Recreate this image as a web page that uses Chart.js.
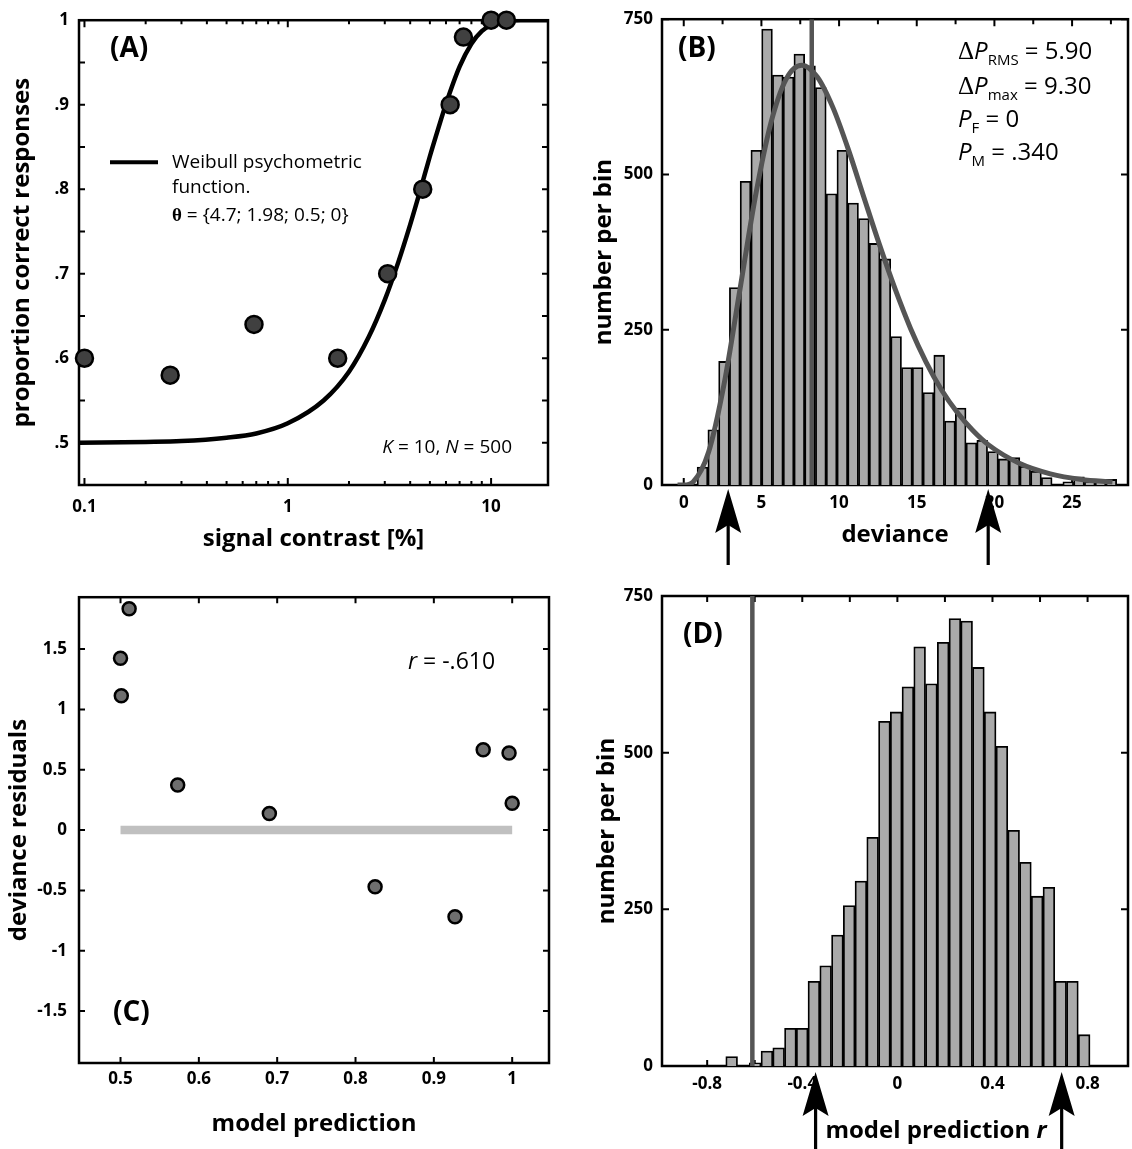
<!DOCTYPE html>
<html>
<head>
<meta charset="utf-8">
<script src="https://cdn.jsdelivr.net/npm/chart.js@4.4.1/dist/chart.umd.min.js"></script>
<style>
  body { margin: 0; background: #fff; }
  #wrap { position: relative; width: 1132px; height: 1149px; background: #fff; }
  canvas { position: absolute; }
</style>
</head>
<body>
<div id="wrap">
  <canvas id="chartA" width="566" height="570" style="left:0;top:0"></canvas>
  <canvas id="chartB" width="566" height="575" style="left:566px;top:0"></canvas>
  <canvas id="chartC" width="566" height="574" style="left:0;top:575px"></canvas>
  <canvas id="chartD" width="566" height="574" style="left:566px;top:575px"></canvas>
</div>
<script>
const contrast = [0.1, 0.264, 0.682, 1.76, 3.1, 4.61, 6.29, 7.31, 10, 11.9];
const propCorrect = [0.6, 0.58, 0.64, 0.6, 0.7, 0.8, 0.9, 0.98, 1.0, 1.0];
const fitContrast = [0.094, 0.2, 0.3, 0.5, 0.7, 1, 1.5, 2, 2.5, 3, 3.5, 4, 4.5, 5, 5.5, 6, 7, 8, 9, 10, 12, 14, 19.05];
const fitProp = [0.5, 0.501, 0.502, 0.506, 0.511, 0.523, 0.55, 0.584, 0.625, 0.669, 0.714, 0.758, 0.8, 0.839, 0.872, 0.901, 0.945, 0.972, 0.987, 0.994, 0.999, 1.0, 1.0];
const aXTicks = [0.1, 0.2, 0.3, 0.4, 0.5, 0.6, 0.7, 0.8, 0.9, 1, 2, 3, 4, 5, 6, 7, 8, 9, 10];
const aXLabeled = [0.1, 1, 10];
const aYTicks = [0.5, 0.55, 0.6, 0.65, 0.7, 0.75, 0.8, 0.85, 0.9, 0.95, 1.0];
const aYLabeled = [0.5, 0.6, 0.7, 0.8, 0.9, 1.0];

// (B) deviance histogram
const devBinCenters = [1.2063, 1.8989, 2.5914, 3.2840, 3.9765, 4.6691, 5.3617, 6.0542, 6.7468, 7.4393,
  8.1319, 8.8245, 9.5170, 10.2096, 10.9021, 11.5947, 12.2873, 12.9798, 13.6724, 14.3649,
  15.0575, 15.7501, 16.4426, 17.1352, 17.8277, 18.5203, 19.2129, 19.9054, 20.5980, 21.2905,
  21.9831, 22.6757, 23.3682, 24.0608, 24.7533, 25.4459, 26.1385, 26.8310, 27.5236];
const devCounts = [29, 89, 199, 318, 489, 539, 734, 660, 657, 694,
  675, 640, 469, 539, 454, 429, 389, 364, 239, 189,
  189, 149, 209, 103, 124, 68, 72, 54, 42, 44,
  30, 22, 12, 0, 5, 13, 6, 6, 9];
const devCurveX = [-0.4, 0, 0.6, 1.6, 2.6, 3.6, 4.6, 5.6, 6.6, 7.6, 8.6, 9.6, 10.6, 11.6, 12.6, 13.6, 14.6, 15.6, 16.6, 17.6, 18.6, 19.6, 21.6, 23.6, 25.6, 27.6];
const devCurveY = [0, 0, 5, 53, 163, 312, 463, 582, 654, 676, 657, 608, 540, 463, 387, 316, 252, 198, 153, 117, 88, 65, 35, 18, 9, 5];
const devObserved = 8.24;
const devArrows = [2.86, 19.6];
const bXTicks = [0, 2.5, 5, 7.5, 10, 12.5, 15, 17.5, 20, 22.5, 25, 27.5];
const bXLabeled = [0, 5, 10, 15, 20, 25];
const countTicks = [0, 250, 500, 750];

// (C) deviance residuals against model prediction
const modelPred = [0.5, 0.501, 0.511, 0.573, 0.69, 0.825, 0.927, 0.963, 0.996, 1.0];
const devResid = [1.424, 1.113, 1.834, 0.374, 0.137, -0.469, -0.718, 0.666, 0.639, 0.222];
const cXTicks = [0.5, 0.6, 0.7, 0.8, 0.9, 1];
const cYTicks = [-1.5, -1, -0.5, 0, 0.5, 1, 1.5];

// (D) histogram of r
const rBinCenters = [-0.6970, -0.6476, -0.5982, -0.5487, -0.4993, -0.4499, -0.4005, -0.3511, -0.3016, -0.2522,
  -0.2028, -0.1534, -0.1040, -0.0545, -0.0051, 0.0443, 0.0937, 0.1431, 0.1926, 0.2420,
  0.2914, 0.3408, 0.3902, 0.4397, 0.4891, 0.5385, 0.5879, 0.6373, 0.6868, 0.7362, 0.7856];
const rCounts = [15, 0, 5, 24, 29, 60, 60, 135, 160, 209,
  256, 295, 365, 550, 565, 605, 669, 610, 676, 714,
  710, 636, 565, 510, 376, 325, 271, 285, 135, 135, 50];
const rObserved = -0.61;
const rArrows = [-0.344, 0.691];
const dXTicks = [-0.8, -0.6, -0.4, -0.2, 0, 0.2, 0.4, 0.6, 0.8];
const dXLabeled = [-0.8, -0.4, 0, 0.4, 0.8];

const SANS = '"Open Sans", "DejaVu Sans", sans-serif';
const SERIF = '"Liberation Serif", "DejaVu Serif", serif';
const f = (size, style, fam) => (style || '') + ' ' + size + 'px ' + (fam || SANS);

Chart.defaults.color = '#000';
Chart.defaults.font.family = SANS;

const tickFont = { size: 17, weight: 'bold' };
const titleFont = { size: 24, weight: 'bold' };

function isIn(v, list) {
  return list.some(m => Math.abs(m - v) < 1e-9);
}
function setTicks(vals) {
  return s => { s.ticks = vals.map(v => ({ value: v })); };
}
function xy(xs, ys) {
  return xs.map((x, i) => ({ x: x, y: ys[i] }));
}

function runsWidth(ctx, runs) {
  let w = 0;
  runs.forEach(r => { ctx.font = r.font; w += ctx.measureText(r.text).width; });
  return w;
}
function drawRuns(ctx, x, y, runs, align) {
  if (align === 'right') x -= runsWidth(ctx, runs);
  if (align === 'center') x -= runsWidth(ctx, runs) / 2;
  runs.forEach(r => {
    ctx.font = r.font;
    ctx.fillText(r.text, x, y + (r.dy || 0));
    x += ctx.measureText(r.text).width;
  });
}

function drawArrow(ctx, x, tipY, endY) {
  ctx.beginPath();
  ctx.moveTo(x, tipY);
  ctx.lineTo(x - 13, tipY + 44);
  ctx.lineTo(x, tipY + 36);
  ctx.lineTo(x + 13, tipY + 44);
  ctx.closePath();
  ctx.fill();
  ctx.fillRect(x - 1.6, tipY + 36, 3.2, endY - tipY - 36);
}

// box round the plot area plus inward ticks on all four sides
const framePlugin = {
  id: 'frame',
  beforeDatasetsDraw(chart, args, opts) {
    const { ctx, chartArea: a } = chart;
    ctx.save();
    ctx.strokeStyle = '#000';
    ctx.lineWidth = 2;
    ['x', 'y'].forEach(id => {
      const sc = chart.scales[id];
      const o = opts[id] || {};
      sc.ticks.forEach(t => {
        const major = !o.major || isIn(t.value, o.major);
        const len = major ? (o.len || 7) : (o.minorLen || 4);
        const p = sc.getPixelForValue(t.value);
        ctx.beginPath();
        if (id === 'x') {
          ctx.moveTo(p, a.bottom); ctx.lineTo(p, a.bottom - len);
          ctx.moveTo(p, a.top); ctx.lineTo(p, a.top + len);
        } else {
          ctx.moveTo(a.left, p); ctx.lineTo(a.left + len, p);
          ctx.moveTo(a.right, p); ctx.lineTo(a.right - len, p);
        }
        ctx.stroke();
      });
    });
    ctx.lineWidth = 2.5;
    ctx.strokeRect(a.left, a.top, a.right - a.left, a.bottom - a.top);
    ctx.restore();
  }
};

function baseScales(o) {
  return {
    x: {
      type: o.xType || 'linear', min: o.xMin, max: o.xMax,
      offset: false,
      afterBuildTicks: setTicks(o.xTicks),
      afterFit: s => { s.height = o.xHeight; },
      grid: { display: false, drawTicks: false, offset: false }, border: { display: false },
      ticks: { autoSkip: false, maxRotation: 0, padding: o.xPad, font: tickFont, callback: o.xLabel },
      title: o.xTitle ? { display: true, text: o.xTitle, font: titleFont, padding: { top: 0, bottom: o.xTitlePad } } : { display: false }
    },
    y: {
      type: 'linear', min: o.yMin, max: o.yMax,
      afterBuildTicks: setTicks(o.yTicks),
      afterFit: s => { s.width = o.yWidth; },
      grid: { display: false, drawTicks: false }, border: { display: false },
      ticks: { autoSkip: false, padding: o.yPad, font: tickFont, callback: o.yLabel },
      title: { display: true, text: o.yTitle, font: titleFont, padding: { top: o.yTitlePad, bottom: 0 } }
    }
  };
}

// ---------- (A)
new Chart(document.getElementById('chartA'), {
  type: 'scatter',
  data: {
    datasets: [
      {
        data: xy(fitContrast, fitProp), showLine: true, pointRadius: 0,
        borderColor: '#000', borderWidth: 4.5, cubicInterpolationMode: 'monotone', order: 2
      },
      {
        data: xy(contrast, propCorrect), showLine: false, clip: false,
        pointRadius: 8.5, pointBorderWidth: 2.5,
        pointBackgroundColor: '#404040', pointBorderColor: '#000', order: 1
      }
    ]
  },
  options: {
    responsive: false, animation: false,
    layout: { padding: { left: 0, right: 18, top: 14, bottom: 0 } },
    plugins: {
      legend: { display: false }, tooltip: { enabled: false },
      frame: { x: { major: aXLabeled, len: 7, minorLen: 4 }, y: { len: 6 } }
    },
    scales: baseScales({
      xType: 'logarithmic', xMin: 0.094, xMax: 19.05, xTicks: aXTicks, xHeight: 85, xPad: 12,
      xLabel: v => isIn(v, aXLabeled) ? String(v) : '',
      xTitle: 'signal contrast [%]', xTitlePad: 16,
      yMin: 0.45, yMax: 1.0, yTicks: aYTicks, yWidth: 79, yPad: 10,
      yLabel: v => isIn(v, aYLabeled) ? (Math.abs(v - 1) < 1e-9 ? '1' : '.' + Math.round(v * 10)) : '',
      yTitle: 'proportion correct responses', yTitlePad: 8
    })
  },
  plugins: [framePlugin, {
    id: 'notesA',
    afterDraw(chart) {
      const { ctx, chartArea: a } = chart;
      ctx.save();
      ctx.fillStyle = '#000';
      ctx.textAlign = 'left';
      ctx.textBaseline = 'alphabetic';
      ctx.font = f(28, 'bold');
      ctx.fillText('(A)', a.left + 31, a.top + 37);
      ctx.strokeStyle = '#000';
      ctx.lineWidth = 4;
      ctx.beginPath();
      ctx.moveTo(a.left + 31, a.top + 142);
      ctx.lineTo(a.left + 79, a.top + 142);
      ctx.stroke();
      ctx.font = f(19);
      ctx.fillText('Weibull psychometric', a.left + 93, a.top + 148);
      ctx.fillText('function.', a.left + 93, a.top + 173);
      drawRuns(ctx, a.left + 93, a.top + 201, [
        { text: 'θ', font: f(19, 'bold', SERIF) },
        { text: ' = {4.7; 1.98; 0.5; 0}', font: f(19) }
      ]);
      drawRuns(ctx, a.right - 36, a.top + 433, [
        { text: 'K', font: f(19, 'italic') },
        { text: ' = 10, ', font: f(19) },
        { text: 'N', font: f(19, 'italic') },
        { text: ' = 500', font: f(19) }
      ], 'right');
      ctx.restore();
    }
  }]
});

// ---------- (B)
new Chart(document.getElementById('chartB'), {
  type: 'bar',
  data: {
    datasets: [
      {
        type: 'line', data: xy(devCurveX, devCurveY), borderColor: '#555', borderWidth: 5,
        pointRadius: 0, cubicInterpolationMode: 'monotone', fill: false, order: 1
      },
      {
        type: 'line', data: xy([devObserved, devObserved], [0, 750]), borderColor: '#555',
        borderWidth: 4.5, pointRadius: 0, fill: false, order: 2
      },
      {
        data: xy(devBinCenters, devCounts), backgroundColor: '#aaaaaa', borderColor: '#000',
        borderWidth: 1.8, barPercentage: 1, categoryPercentage: 1, order: 3
      }
    ]
  },
  options: {
    responsive: false, animation: false,
    layout: { padding: { left: 0, right: 4, top: 15, bottom: 0 } },
    plugins: {
      legend: { display: false }, tooltip: { enabled: false },
      frame: { x: { major: bXLabeled, len: 7, minorLen: 5 }, y: { len: 7 } }
    },
    scales: baseScales({
      xMin: -1.4, xMax: 28.6, xTicks: bXTicks, xHeight: 90, xPad: 8,
      xLabel: v => isIn(v, bXLabeled) ? String(v) : '',
      xTitle: 'deviance', xTitlePad: 25,
      yMin: 0, yMax: 750, yTicks: countTicks, yWidth: 96, yPad: 9,
      yLabel: v => String(v),
      yTitle: 'number per bin', yTitlePad: 24
    })
  },
  plugins: [framePlugin, {
    id: 'notesB',
    afterDraw(chart) {
      const { ctx, chartArea: a } = chart;
      const sx = chart.scales.x;
      ctx.save();
      ctx.fillStyle = '#000';
      ctx.textAlign = 'left';
      ctx.textBaseline = 'alphabetic';
      ctx.font = f(28, 'bold');
      ctx.fillText('(B)', a.left + 16, a.top + 38);
      const x0 = a.left + 296;
      const big = f(24), sub = f(15), ital = f(24, 'italic'), delta = f(25, '', SERIF);
      drawRuns(ctx, x0, a.top + 40, [
        { text: 'Δ', font: delta }, { text: 'P', font: ital },
        { text: 'RMS', font: sub, dy: 6 }, { text: ' = 5.90', font: big }
      ]);
      drawRuns(ctx, x0, a.top + 75, [
        { text: 'Δ', font: delta }, { text: 'P', font: ital },
        { text: 'max', font: sub, dy: 6 }, { text: ' = 9.30', font: big }
      ]);
      drawRuns(ctx, x0, a.top + 108, [
        { text: 'P', font: ital }, { text: 'F', font: sub, dy: 6 }, { text: ' = 0', font: big }
      ]);
      drawRuns(ctx, x0, a.top + 141, [
        { text: 'P', font: ital }, { text: 'M', font: sub, dy: 6 }, { text: ' = .340', font: big }
      ]);
      devArrows.forEach(v => drawArrow(ctx, sx.getPixelForValue(v), a.bottom + 4, a.bottom + 80));
      ctx.restore();
    }
  }]
});

// ---------- (C)
new Chart(document.getElementById('chartC'), {
  type: 'scatter',
  data: {
    datasets: [
      {
        data: xy([0.5, 1.0], [0, 0]), showLine: true, pointRadius: 0,
        borderColor: '#c0c0c0', borderWidth: 8.5, borderCapStyle: 'butt', order: 2
      },
      {
        data: xy(modelPred, devResid), showLine: false, clip: false,
        pointRadius: 6.5, pointBorderWidth: 2.5,
        pointBackgroundColor: '#6e6e6e', pointBorderColor: '#000', order: 1
      }
    ]
  },
  options: {
    responsive: false, animation: false,
    layout: { padding: { left: 0, right: 17, top: 21, bottom: 0 } },
    plugins: {
      legend: { display: false }, tooltip: { enabled: false },
      frame: { x: { len: 6 }, y: { len: 6 } }
    },
    scales: baseScales({
      xMin: 0.447, xMax: 1.047, xTicks: cXTicks, xHeight: 86, xPad: 6,
      xLabel: v => Math.abs(v - 1) < 1e-9 ? '1' : v.toFixed(1),
      xTitle: 'model prediction', xTitlePad: 10,
      yMin: -1.93, yMax: 1.93, yTicks: cYTicks, yWidth: 79, yPad: 12,
      yLabel: v => String(v),
      yTitle: 'deviance residuals', yTitlePad: 5
    })
  },
  plugins: [framePlugin, {
    id: 'notesC',
    afterDraw(chart) {
      const { ctx, chartArea: a } = chart;
      ctx.save();
      ctx.fillStyle = '#000';
      ctx.textAlign = 'left';
      ctx.textBaseline = 'alphabetic';
      drawRuns(ctx, a.left + 329, a.top + 72, [
        { text: 'r', font: f(23, 'italic') }, { text: ' = -.610', font: f(23) }
      ]);
      ctx.font = f(28, 'bold');
      ctx.fillText('(C)', a.left + 34, a.top + 424);
      ctx.restore();
    }
  }]
});

// ---------- (D)
new Chart(document.getElementById('chartD'), {
  type: 'bar',
  data: {
    datasets: [
      {
        type: 'line', data: xy([rObserved, rObserved], [0, 750]), borderColor: '#555',
        borderWidth: 4.5, pointRadius: 0, fill: false, order: 1
      },
      {
        data: xy(rBinCenters, rCounts), backgroundColor: '#aaaaaa', borderColor: '#000',
        borderWidth: 1.8, barPercentage: 1, categoryPercentage: 1, order: 2
      }
    ]
  },
  options: {
    responsive: false, animation: false,
    layout: { padding: { left: 0, right: 4, top: 21, bottom: 0 } },
    plugins: {
      legend: { display: false }, tooltip: { enabled: false },
      frame: { x: { len: 6 }, y: { len: 7 } }
    },
    scales: baseScales({
      xMin: -0.99, xMax: 0.97, xTicks: dXTicks, xHeight: 83, xPad: 8,
      xLabel: v => isIn(v, dXLabeled) ? (v === 0 ? '0' : v.toFixed(1)) : '',
      yMin: 0, yMax: 750, yTicks: countTicks, yWidth: 96, yPad: 9,
      yLabel: v => String(v),
      yTitle: 'number per bin', yTitlePad: 27
    })
  },
  plugins: [framePlugin, {
    id: 'notesD',
    afterDraw(chart) {
      const { ctx, chartArea: a } = chart;
      const sx = chart.scales.x;
      ctx.save();
      ctx.fillStyle = '#000';
      ctx.textAlign = 'left';
      ctx.textBaseline = 'alphabetic';
      ctx.font = f(28, 'bold');
      ctx.fillText('(D)', a.left + 21, a.top + 47);
      drawRuns(ctx, 370, a.bottom + 72, [
        { text: 'model prediction ', font: f(24, 'bold') },
        { text: 'r', font: f(24, 'italic bold') }
      ], 'center');
      rArrows.forEach(v => drawArrow(ctx, sx.getPixelForValue(v), a.bottom + 6, chart.height));
      ctx.restore();
    }
  }]
});
</script>
</body>
</html>
